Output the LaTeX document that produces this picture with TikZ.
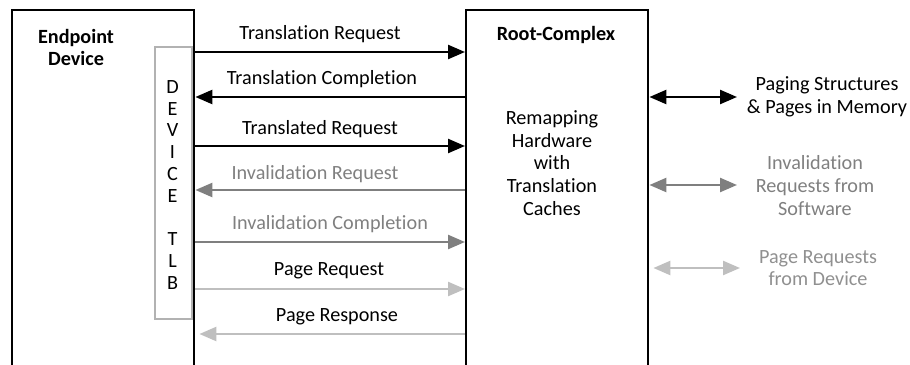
\documentclass[tikz,border=0pt]{standalone}
\usepackage{fontspec}
\setmainfont{Carlito}[Ligatures=NoCommon]
\usetikzlibrary{arrows.meta}
\definecolor{midgray}{HTML}{7F7F7F}
\definecolor{lightgray}{HTML}{BFBFBF}
\definecolor{txtgray}{HTML}{808080}
\begin{document}
\begin{tikzpicture}[x=1pt,y=-1pt,
  bigbox/.style={draw=black, line width=2.4pt, minimum width=182pt, minimum height=380pt, anchor=north west, inner sep=0pt},
  tlbbox/.style={draw=lightgray!80!gray, line width=1.5pt, minimum width=37pt, minimum height=272pt, anchor=north west, inner sep=0pt},
  lbl/.style={font=\fontsize{20.2}{22.7}\selectfont, inner sep=0pt, align=center},
  blbl/.style={lbl, font=\fontsize{20.2}{22}\selectfont\bfseries},
  flow/.style={line width=2.4pt, -{Triangle[length=17pt,width=14pt]}},
  both/.style={line width=2.4pt, {Triangle[length=17pt,width=14pt]}-{Triangle[length=17pt,width=14pt]}}]
\useasboundingbox (0,0) rectangle (910,364);
\node[bigbox] (ep) at (11,9) {};
\node[bigbox] (rc) at (465,9) {};
\node[tlbbox] (tlb) at (154,46) {};
\node[blbl] (eplbl) at (76,47) {Endpoint\\Device};
\node[blbl] (rclbl) at (556,35) {Root-Complex};
\node[lbl] (rmlbl) at (552,163) {Remapping\\Hardware\\with\\Translation\\Caches};
\node[lbl, font=\fontsize{20.2}{21.8}\selectfont] (tlblbl) at (172.5,185) {D\\E\\V\\I\\C\\E\\[21.8pt]T\\L\\B};
% left-right coordinates
\foreach \n/\y in {a/52,b/97,c/146,d/190,e/242,f/289,g/334}{
  \coordinate (L\n) at (ep.east |- 0,\y);
  \coordinate (R\n) at (rc.west |- 0,\y);
}
\draw[flow, black] (La) -- (Ra);
\draw[flow, black] (Rb) -- (Lb);
\draw[flow, black] (Lc) -- (Rc);
\draw[flow, midgray] (Rd) -- (Ld);
\draw[flow, midgray] (Le) -- (Re);
\draw[flow, lightgray] (Lf) -- (Rf);
\draw[flow, lightgray] (Rg) -- ([xshift=4pt]Lg);
\node[lbl] (ta) at (320,34) {Translation Request};
\node[lbl] (tb) at (322,79) {Translation Completion};
\node[lbl] (tc) at (320,129) {Translated Request};
\node[lbl, text=txtgray] (td) at (315,174) {Invalidation Request};
\node[lbl, text=txtgray] (te) at (330,224) {Invalidation Completion};
\node[lbl] (tf) at (329,271) {Page Request};
\node[lbl] (tg) at (337,317) {Page Response};
% right side
\coordinate (m1) at (737,97);
\coordinate (m2) at (737,185);
\coordinate (m3) at (740,268);
\draw[both, black] (rc.east |- m1) -- (m1);
\draw[both, midgray] (rc.east |- m2) -- (m2);
\draw[both, lightgray] ([xshift=4pt]rc.east |- m3) -- (m3);
\node[lbl] (pg) at (827,96.5) {Paging Structures\\\& Pages in Memory};
\node[lbl, text=txtgray] (inv) at (815,185.5) {Invalidation\\Requests from\\Software};
\node[lbl, text=txtgray!75!lightgray] (pr) at (818,268) {Page Requests\\from Device};
\end{tikzpicture}
\end{document}
